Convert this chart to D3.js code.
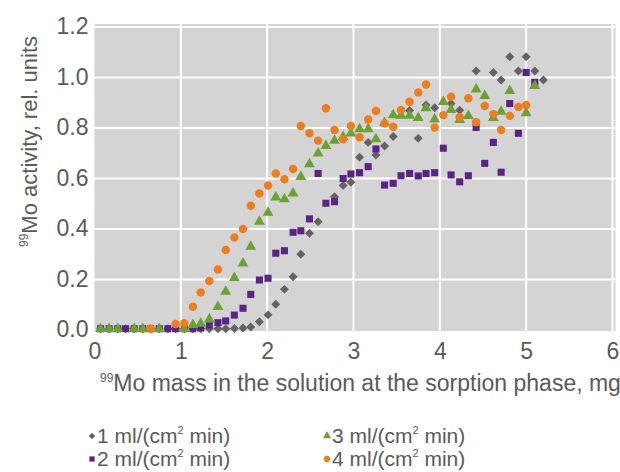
<!DOCTYPE html>
<html>
<head>
<meta charset="utf-8">
<script src="https://cdn.jsdelivr.net/npm/d3@7/dist/d3.min.js"></script>
<style>
  html, body { margin: 0; padding: 0; background: #ffffff; }
  svg { display: block; font-family: "Liberation Sans", Arial, sans-serif; }
</style>
</head>
<body>
<svg id="chart" width="620" height="472"></svg>
<script>
// ---- data ----
const mass = [0.07,0.17,0.27,0.36,0.46,0.56,0.65,0.75,0.85,0.94,
              1.04,1.14,1.23,1.33,1.43,1.52,1.62,1.72,1.81,1.91,
              2.01,2.10,2.20,2.30,2.39,2.49,2.59,2.68,2.78,2.88,
              2.97,3.07,3.17,3.26,3.36,3.46,3.55,3.65,3.75,3.84,
              3.94,4.04,4.13,4.23,4.33,4.42,4.52,4.62,4.71,4.81,
              4.91,5.00,5.10,5.20];

const flow1 = [0.005,0.005,0.005,0.005,0.005,0.005,0.005,0.005,0.005,0.005,
               0.005,0.005,0.005,0.005,0.005,0.005,0.006,0.008,0.012,0.033,
               0.060,0.102,0.161,0.211,0.300,0.383,0.429,null,0.528,0.572,
               0.585,0.684,0.743,0.693,0.729,0.766,null,0.869,0.759,0.891,
               0.880,null,0.897,0.870,null,1.026,null,1.020,0.990,1.082,
               1.026,1.082,1.026,0.990];

const flow2 = [0.005,0.005,0.005,0.005,0.005,0.005,0.005,0.005,0.005,0.005,
               0.005,0.005,0.008,0.020,0.029,0.036,0.059,0.086,0.141,0.198,
               0.205,0.304,0.314,0.387,0.393,0.440,0.620,0.502,0.508,0.600,
               0.618,0.623,0.647,0.717,0.574,0.581,0.611,0.620,0.610,0.620,
               0.623,0.720,0.614,0.587,0.611,0.802,0.660,0.743,0.625,0.897,
               0.779,1.020,0.981];

const flow3 = [0.005,0.005,0.005,null,0.005,0.005,null,0.005,null,null,
               0.005,0.020,0.025,0.042,0.092,0.152,0.207,0.264,0.330,0.429,
               0.465,0.525,0.518,0.541,0.607,0.657,0.700,0.729,0.750,0.765,
               0.779,0.796,0.796,0.756,0.820,0.851,0.849,0.849,0.840,0.879,
               0.834,0.904,0.872,0.832,0.848,0.953,0.927,0.840,0.865,0.947,
               null,0.859,0.967];

const flow4 = [null,null,null,null,null,null,0.005,null,null,0.024,
               0.027,0.092,0.149,0.194,0.240,0.317,0.366,0.400,0.492,0.541,
               0.572,0.620,0.597,0.638,0.808,0.779,0.750,0.878,0.792,0.755,
               0.808,0.763,0.834,0.867,0.818,0.805,0.871,0.904,0.941,0.972,
               0.802,0.851,0.924,0.843,0.918,0.823,0.887,0.855,0.792,0.848,
               0.883,0.891];

const seriesNames = ["1 ml/(cm", "2 ml/(cm", "3 ml/(cm", "4 ml/(cm"];
const xTicks = [0,1,2,3,4,5,6];
const yTicks = [0.0,0.2,0.4,0.6,0.8,1.0,1.2];
const xTitle = "Mo mass in the solution at the sorption phase, mg";
const yTitle = "Mo activity, rel. units";
const isotope = "99";

// ---- layout ----
const svg = d3.select("#chart");
const plot = {left: 94.5, right: 612.5, top: 27, bottom: 330};
const x = d3.scaleLinear().domain([0, 6]).range([plot.left, plot.right]);
const y = d3.scaleLinear().domain([0, 1.2]).range([plot.bottom, plot.top]);

const textColor = "#5a5a5a";
const fontSize = 23;
const colors = ["#636363", "#5b2287", "#6aa331", "#f07c1c"];
const shapes = [d3.symbolSquare, d3.symbolSquare, d3.symbolTriangle, d3.symbolCircle];
const rotations = [45, 0, 0, 0];
const sizes = [40, 50, 52, 56];

// plot background
svg.append("rect")
  .attr("x", plot.left).attr("y", plot.top - 3)
  .attr("width", plot.right - plot.left + 3).attr("height", plot.bottom - plot.top + 4)
  .attr("fill", "#d4d4d4");

// grid
const g = svg.append("g");
g.selectAll(".hg").data(yTicks.slice(1)).enter().append("line")
  .attr("x1", plot.left).attr("x2", plot.right + 3)
  .attr("y1", d => y(d)).attr("y2", d => y(d))
  .attr("stroke", "#ffffff").attr("stroke-width", 2);
g.selectAll(".vg").data(xTicks.slice(1)).enter().append("line")
  .attr("x1", d => x(d)).attr("x2", d => x(d))
  .attr("y1", plot.top - 3).attr("y2", plot.bottom + 1)
  .attr("stroke", "#ffffff").attr("stroke-width", 2);

// axes (d3 axes with lines hidden)
const yAxis = svg.append("g")
  .attr("transform", `translate(${plot.left - 6},0)`)
  .call(d3.axisLeft(y).tickValues(yTicks).tickFormat(d3.format(".1f")).tickSize(0).tickPadding(0));
yAxis.select(".domain").remove();
yAxis.selectAll("text")
  .attr("fill", textColor).attr("font-size", fontSize)
  .attr("font-family", "Liberation Sans, Arial, sans-serif")
  .attr("dy", "0.3em");

const xAxis = svg.append("g")
  .attr("transform", `translate(0,${plot.bottom + 13})`)
  .call(d3.axisBottom(x).tickValues(xTicks).tickFormat(d3.format("d")).tickSize(0).tickPadding(0));
xAxis.select(".domain").remove();
xAxis.selectAll("text")
  .attr("fill", textColor).attr("font-size", fontSize)
  .attr("font-family", "Liberation Sans, Arial, sans-serif")
  .attr("dy", "0.71em");

// titles
const xt = svg.append("text")
  .attr("x", 100).attr("y", 391)
  .attr("fill", textColor).attr("font-size", 23);
xt.append("tspan").attr("font-size", 12).attr("dy", -9).text(isotope);
xt.append("tspan").attr("dy", 9).text(xTitle);

const yt = svg.append("text")
  .attr("transform", "translate(37,247) rotate(-90)")
  .attr("fill", textColor).attr("font-size", 22);
yt.append("tspan").attr("font-size", 12).attr("dy", -9).text(isotope);
yt.append("tspan").attr("dy", 9).text(yTitle);

// points
const all = [flow1, flow2, flow3, flow4];
all.forEach((vals, i) => {
  const pts = vals.map((v, j) => ({m: mass[j], v: v})).filter(d => d.v !== null);
  svg.append("g").selectAll("path").data(pts).enter().append("path")
    .attr("d", d3.symbol().type(shapes[i]).size(sizes[i]))
    .attr("transform", d => `translate(${x(d.m)},${y(d.v)}) rotate(${rotations[i]})`)
    .attr("fill", colors[i]);
});

// legend
const legendFont = 21;
const legendPos = [[92, 436], [92, 459], [327, 436], [327, 459]];
seriesNames.forEach((name, i) => {
  const [lx, ly] = legendPos[i];
  svg.append("path")
    .attr("d", d3.symbol().type(shapes[i]).size(sizes[i] * 0.55))
    .attr("transform", `translate(${lx},${ly}) rotate(${rotations[i]})`)
    .attr("fill", colors[i]);
  const t = svg.append("text")
    .attr("x", lx + 5).attr("y", ly + 7)
    .attr("fill", textColor).attr("font-size", legendFont);
  t.append("tspan").text(name);
  t.append("tspan").attr("font-size", 11).attr("dy", -9).text("2");
  t.append("tspan").attr("dy", 9).text(" min)");
});
</script>
</body>
</html>
